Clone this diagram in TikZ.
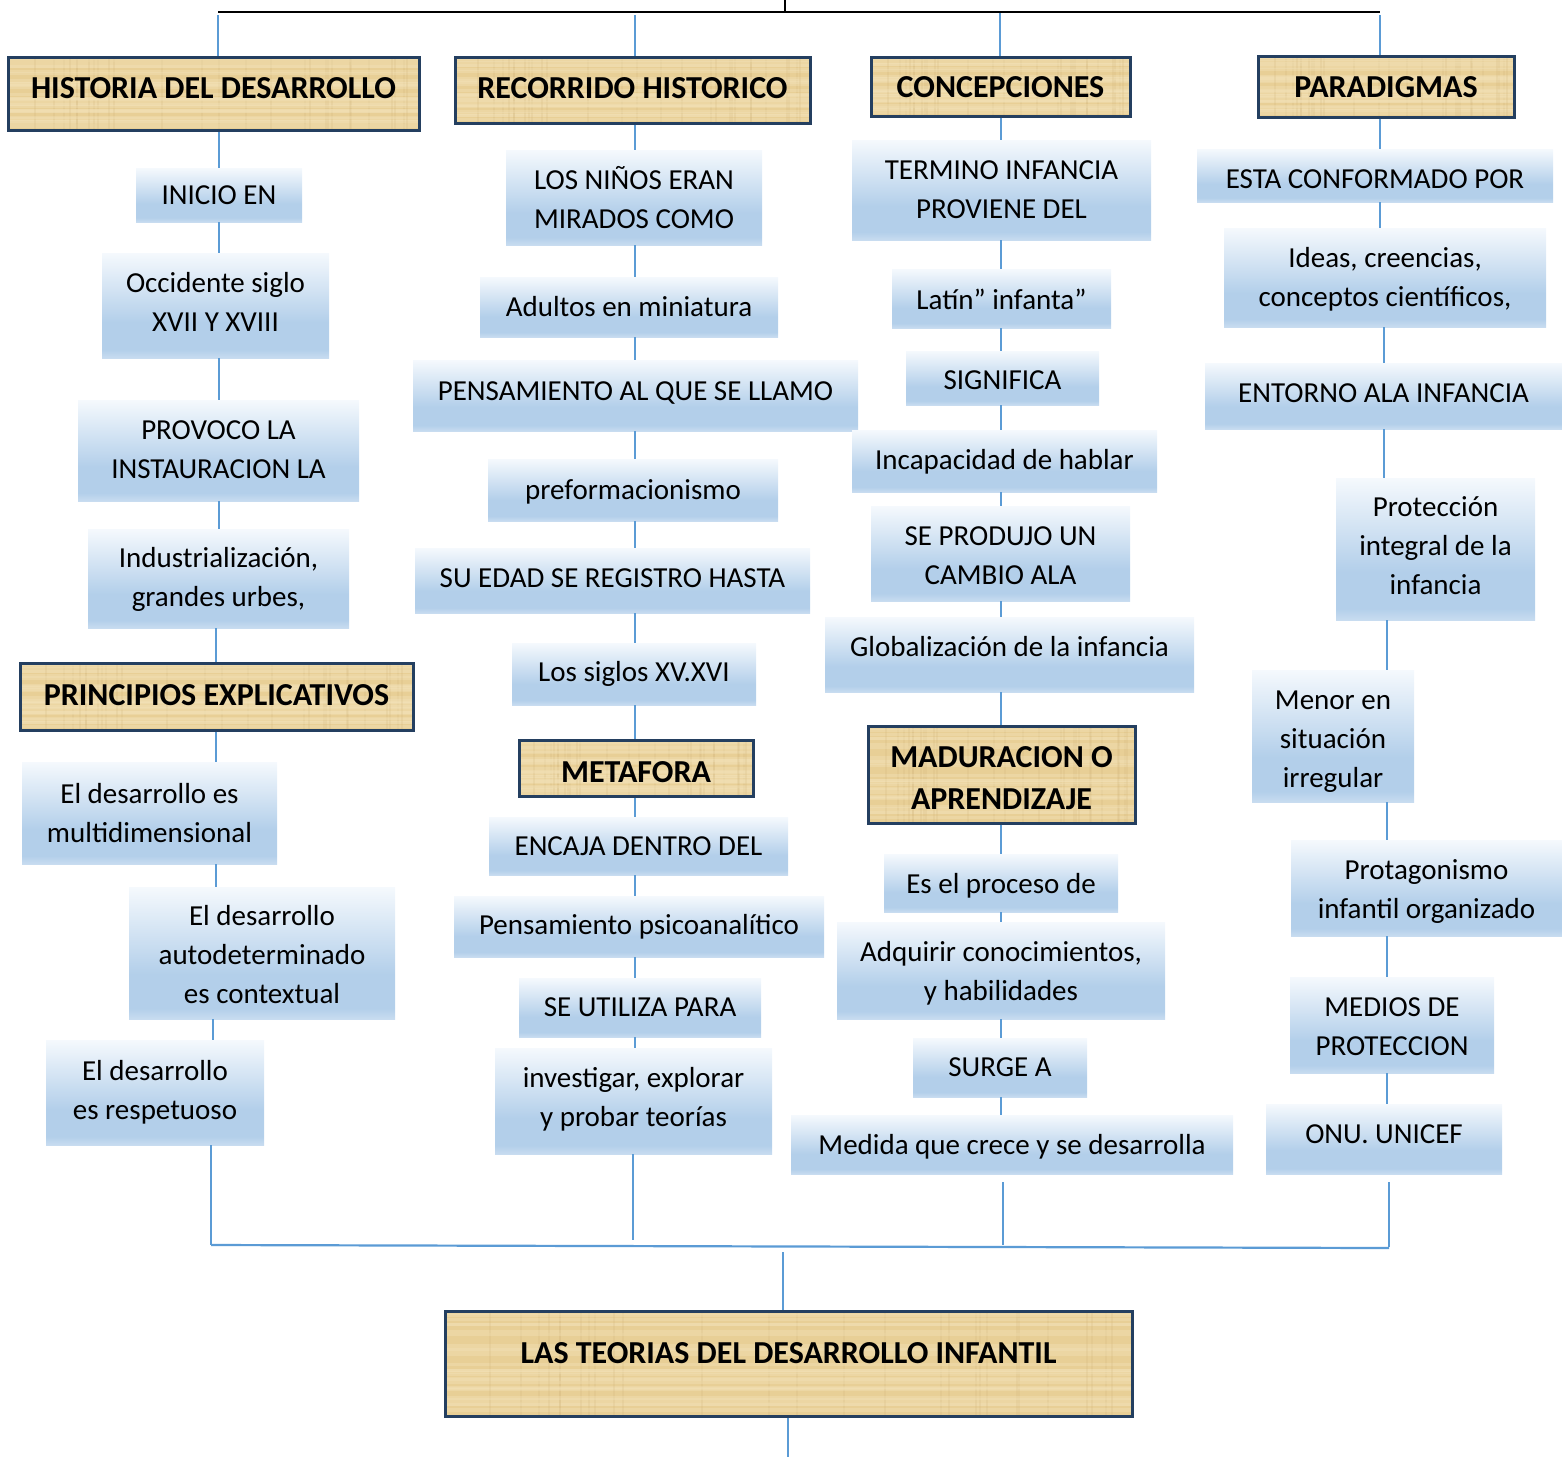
\documentclass[tikz,border=0pt]{standalone}
\usepackage{fontspec}
\setmainfont{Carlito}
\definecolor{tan}{RGB}{232,207,150}
\definecolor{tanlight}{RGB}{244,228,188}
\definecolor{tandark}{RGB}{205,178,120}
\definecolor{navy}{RGB}{36,63,96}
\definecolor{lnblue}{RGB}{91,155,213}
\definecolor{btop}{RGB}{245,249,253}
\definecolor{bmid}{RGB}{179,207,234}
\definecolor{bedge}{RGB}{200,220,240}
\pgfdeclareverticalshading{bluebox}{100bp}{color(0bp)=(bedge); color(25bp)=(bedge); color(29bp)=(bmid); color(42bp)=(bmid); color(75bp)=(btop); color(100bp)=(btop)}
\tikzset{
  paper/.style={path picture={
    \pgfmathsetseed{7}
    \foreach \i in {1,...,28}{
      \pgfmathsetmacro{\ry}{rnd}
      \pgfmathsetmacro{\rx}{rnd}
      \fill[tanlight, opacity=0.35]
        ($(path picture bounding box.south west)!\ry!(path picture bounding box.north west)+(0,-1pt)$)
        rectangle
        ($(path picture bounding box.south east)!\ry!(path picture bounding box.north east)+(0,0.6pt)$);
      \fill[tandark, opacity=0.18]
        ($(path picture bounding box.south west)!\rx!(path picture bounding box.south east)+(-0.5pt,0)$)
        rectangle
        ($(path picture bounding box.north west)!\rx!(path picture bounding box.north east)+(0.5pt,0)$);
    }}},
  hdr/.style={draw=navy, line width=1.5pt, fill=tan, paper, inner sep=0pt},
  hdrt/.style={inner sep=0pt, align=center, font=\fontsize{16}{21}\selectfont\bfseries},
  bbox/.style={shade, shading=bluebox, draw=none, inner sep=0pt},
  bboxt/.style={inner sep=0pt, align=center, font=\fontsize{14.5}{19.5}\selectfont},
  conn/.style={draw=lnblue, line width=0.75pt},
  topln/.style={draw=black, line width=0.8pt},
}
\usetikzlibrary{calc}
% \bx[dy px]{style}{x1}{y1}{x2}{y2}{name}{text}
\newcommand\bx[8][0]{\node[#2, minimum width={(#5-#3)*0.5pt}, minimum height={(#6-#4)*0.5pt},
  label={[#2t, yshift={-(#1)*0.5pt}]center:{#8}}] (#7) at ({(#3+#5)/2},{(#4+#6)/2}) {};}
\begin{document}
\begin{tikzpicture}[x=0.5pt,y=-0.5pt]
\useasboundingbox (0,0) rectangle (1562,1457);
% column coordinates
\coordinate (k1a) at (219,0); \coordinate (k1b) at (216,0);
\coordinate (k1c) at (213,0); \coordinate (k1d) at (211,0);
\coordinate (k2) at (635,0); \coordinate (k2b) at (633,0);
\coordinate (k3) at (1001,0); \coordinate (k3b) at (1003,0);
\coordinate (k4a) at (1380,0); \coordinate (k4b) at (1384,0);
\coordinate (k4c) at (1387,0); \coordinate (k4d) at (1389,0);
% top
\coordinate (tl) at (218,12); \coordinate (tr) at (1380,12);
\coordinate (tm) at (785,12); \coordinate (tt) at (785,0);
\coordinate (t1) at (218,15); \coordinate (t2) at (635,15);
\coordinate (t3) at (1000,13); \coordinate (t4) at (1380,15);
% bottom
\coordinate (bl) at (211,1245); \coordinate (br) at (1389,1248);
\coordinate (b2end) at (633,1240);
\coordinate (b3s) at (1003,1182); \coordinate (b3e) at (1003,1245);
\coordinate (b4s) at (1389,1182); \coordinate (b4e) at (1389,1247);
\coordinate (bc) at (783,1252); \coordinate (fb) at (788,1457);

% column 1
\bx[-5]{hdr}{8}{57}{419}{130}{h1}{HISTORIA DEL DESARROLLO}
\bx{bbox}{136}{168}{302}{222}{a1}{INICIO EN}
\bx[-4]{bbox}{102}{253}{329}{358}{a2}{Occidente siglo\\XVII Y XVIII}
\bx[-1]{bbox}{78}{400}{359}{501}{a3}{PROVOCO LA\\INSTAURACION LA}
\bx[1]{bbox}{88}{529}{349}{628}{a4}{Industrialización,\\grandes urbes,}
\bx[-1]{hdr}{20}{663}{413}{730}{p1}{PRINCIPIOS EXPLICATIVOS}
\bx{bbox}{22}{762}{277}{864}{a5}{El desarrollo es\\multidimensional}
\bx[2]{bbox}{129}{887}{395}{1019}{a6}{El desarrollo\\autodeterminado\\es contextual}
\bx{bbox}{46}{1040}{264}{1145}{a7}{El desarrollo\\es respetuoso}
% column 2
\bx[-2]{hdr}{455}{57}{810}{123}{h2}{RECORRIDO HISTORICO}
\bx{bbox}{506}{150}{762}{245}{b1}{LOS NIÑOS ERAN\\MIRADOS COMO}
\bx{bbox}{480}{277}{778}{337}{b2}{Adultos en miniatura}
\bx[-3]{bbox}{413}{360}{858}{431}{b3}{PENSAMIENTO AL QUE SE LLAMO}
\bx[2]{bbox}{488}{459}{778}{521}{b4}{preformacionismo}
\bx[-2]{bbox}{415}{548}{810}{613}{b5}{SU EDAD SE REGISTRO HASTA}
\bx{bbox}{512}{643}{756}{705}{b6}{Los siglos XV.XVI}
\bx[4]{hdr}{519}{740}{753}{796}{m1}{METAFORA}
\bx{bbox}{489}{817}{788}{875}{b7}{ENCAJA DENTRO DEL}
\bx{bbox}{454}{896}{824}{957}{b8}{Pensamiento psicoanalítico}
\bx{bbox}{519}{978}{761}{1037}{b9}{SE UTILIZA PARA}
\bx[-2]{bbox}{495}{1048}{772}{1154}{b10}{investigar, explorar\\y probar teorías}
% column 3
\bx[1]{hdr}{871}{57}{1130}{116}{h3}{CONCEPCIONES}
\bx{bbox}{852}{140}{1151}{240}{c1}{TERMINO INFANCIA\\PROVIENE DEL}
\bx[1]{bbox}{892}{269}{1111}{328}{c2}{Latín” infanta”}
\bx[2]{bbox}{906}{351}{1099}{405}{c3}{SIGNIFICA}
\bx[1]{bbox}{852}{430}{1157}{492}{c4}{Incapacidad de hablar}
\bx[2]{bbox}{871}{506}{1130}{601}{c5}{SE PRODUJO UN\\CAMBIO ALA}
\bx[-8]{bbox}{825}{617}{1194}{692}{c6}{Globalización de la infancia}
\bx[4]{hdr}{868}{726}{1135}{823}{m2}{MADURACION O\\APRENDIZAJE}
\bx[3]{bbox}{884}{854}{1118}{912}{c7}{Es el proceso de}
\bx[3]{bbox}{837}{922}{1165}{1019}{c8}{Adquirir conocimientos,\\y habilidades}
\bx{bbox}{913}{1038}{1087}{1097}{c9}{SURGE A}
\bx[2]{bbox}{791}{1115}{1233}{1174}{c10}{Medida que crece y se desarrolla}
% column 4
\bx[1]{hdr}{1258}{56}{1514}{117}{h4}{PARADIGMAS}
\bx[4]{bbox}{1197}{149}{1553}{202}{d1}{ESTA CONFORMADO POR}
\bx[2]{bbox}{1224}{228}{1546}{327}{d2}{Ideas, creencias,\\conceptos científicos,}
\bx[-3]{bbox}{1205}{363}{1562}{429}{d3}{ENTORNO ALA INFANCIA}
\bx[-3]{bbox}{1336}{478}{1535}{620}{d4}{Protección\\integral de la\\infancia}
\bx[6]{bbox}{1252}{670}{1414}{802}{d5}{Menor en\\situación\\irregular}
\bx[3]{bbox}{1291}{840}{1562}{936}{d6}{Protagonismo\\infantil organizado}
\bx[2]{bbox}{1290}{977}{1494}{1073}{d7}{MEDIOS DE\\PROTECCION}
\bx[-5]{bbox}{1266}{1104}{1502}{1174}{d8}{ONU. UNICEF}
% final
\bx[-10]{hdr}{445}{1311}{1132}{1416}{fin}{LAS TEORIAS DEL DESARROLLO INFANTIL}

% top connectors
\draw[topln] (tl) -- (tr);
\draw[topln] (tt) -- (tm);
\draw[conn] (t1) -- (h1.north -| t1);
\draw[conn] (t2) -- (h2.north -| t2);
\draw[conn] (t3) -- (h3.north -| t3);
\draw[conn] (t4) -- (h4.north -| t4);

% column 1 connectors
\draw[conn] (h1.south -| k1a) -- (a1.north -| k1a);
\draw[conn] (a1.south -| k1a) -- (a2.north -| k1a);
\draw[conn] (a2.south -| k1a) -- (a3.north -| k1a);
\draw[conn] (a3.south -| k1a) -- (a4.north -| k1a);
\draw[conn] (a4.south -| k1b) -- (p1.north -| k1b);
\draw[conn] (p1.south -| k1b) -- (a5.north -| k1b);
\draw[conn] (a5.south -| k1b) -- (a6.north -| k1b);
\draw[conn] (a6.south -| k1c) -- (a7.north -| k1c);
\draw[conn] (a7.south -| k1d) -- (bl);
% column 2 connectors
\draw[conn] (h2.south -| k2) -- (b1.north -| k2);
\draw[conn] (b1.south -| k2) -- (b2.north -| k2);
\draw[conn] (b2.south -| k2) -- (b3.north -| k2);
\draw[conn] (b3.south -| k2) -- (b4.north -| k2);
\draw[conn] (b4.south -| k2) -- (b5.north -| k2);
\draw[conn] (b5.south -| k2) -- (b6.north -| k2);
\draw[conn] (b6.south -| k2) -- (m1.north -| k2);
\draw[conn] (m1.south -| k2) -- (b7.north -| k2);
\draw[conn] (b7.south -| k2) -- (b8.north -| k2);
\draw[conn] (b8.south -| k2) -- (b9.north -| k2);
\draw[conn] (b9.south -| k2) -- (b10.north -| k2);
\draw[conn] (b10.south -| k2b) -- (b2end);
% column 3 connectors
\draw[conn] (h3.south -| k3) -- (c1.north -| k3);
\draw[conn] (c1.south -| k3) -- (c2.north -| k3);
\draw[conn] (c2.south -| k3) -- (c3.north -| k3);
\draw[conn] (c3.south -| k3) -- (c4.north -| k3);
\draw[conn] (c4.south -| k3) -- (c5.north -| k3);
\draw[conn] (c5.south -| k3) -- (c6.north -| k3);
\draw[conn] (c6.south -| k3) -- (m2.north -| k3);
\draw[conn] (m2.south -| k3) -- (c7.north -| k3);
\draw[conn] (c7.south -| k3) -- (c8.north -| k3);
\draw[conn] (c8.south -| k3) -- (c9.north -| k3);
\draw[conn] (c9.south -| k3) -- (c10.north -| k3);
\draw[conn] (b3s) -- (b3e);
% column 4 connectors
\draw[conn] (h4.south -| k4a) -- (d1.north -| k4a);
\draw[conn] (d1.south -| k4a) -- (d2.north -| k4a);
\draw[conn] (d2.south -| k4b) -- (d3.north -| k4b);
\draw[conn] (d3.south -| k4b) -- (d4.north -| k4b);
\draw[conn] (d4.south -| k4c) -- (d5.north -| k4c);
\draw[conn] (d5.south -| k4c) -- (d6.north -| k4c);
\draw[conn] (d6.south -| k4c) -- (d7.north -| k4c);
\draw[conn] (d7.south -| k4c) -- (d8.north -| k4c);
\draw[conn] (b4s) -- (b4e);
% bottom
\draw[conn, line width=1.1pt] (bl) -- (br);
\draw[conn] (bc) -- (fin.north -| bc);
\draw[conn] (fin.south -| fb) -- (fb);
\end{tikzpicture}
\end{document}
